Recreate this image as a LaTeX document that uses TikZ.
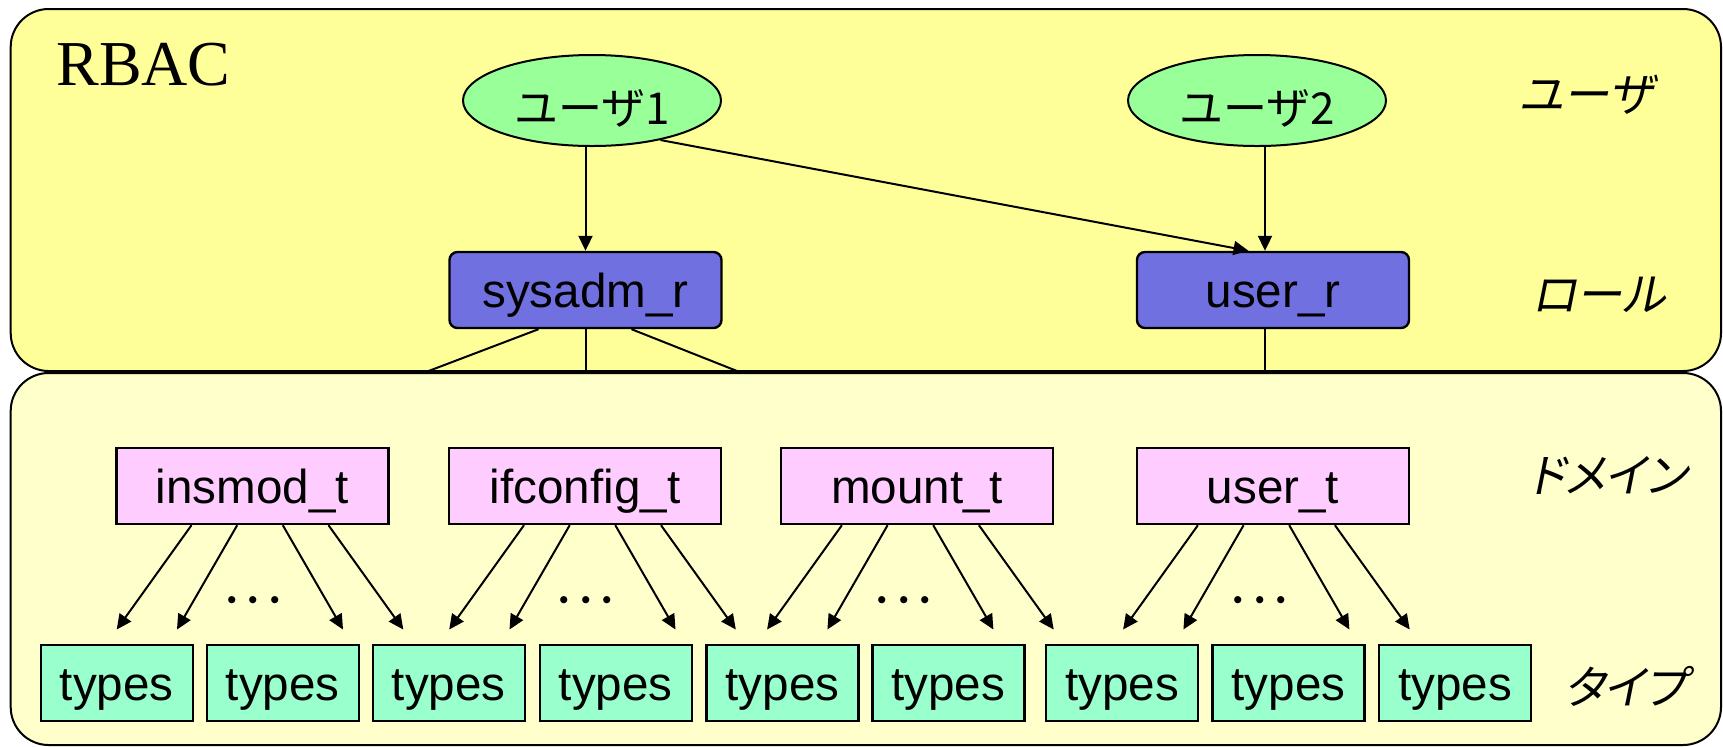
\documentclass[tikz,border=0pt]{standalone}
\usepackage{fontspec}
\setmainfont{Liberation Sans}
\newfontfamily\rbacfont{Liberation Serif}
\newfontfamily\jp{Noto Sans CJK JP}
\newfontfamily\jpit[FakeSlant=0.2,RawFeature=+palt]{Noto Sans CJK JP}
\usetikzlibrary{arrows.meta,shapes.geometric,calc}

\definecolor{panelA}{HTML}{FFFF99}
\definecolor{panelB}{HTML}{FFFFCC}
\definecolor{userfill}{HTML}{99FF99}
\definecolor{rolefill}{HTML}{7070E0}
\definecolor{domfill}{HTML}{FFCCFF}
\definecolor{typefill}{HTML}{99FFCC}

\begin{document}
\begin{tikzpicture}[x=0.5pt,y=-0.5pt,
  panel/.style={draw=black,line width=1pt,rounded corners=19pt},
  usernode/.style={ellipse,draw,line width=1pt,fill=userfill,
    minimum width=129pt,minimum height=45.5pt,inner sep=0pt,
    font=\jp\fontsize{22}{26}\selectfont,
    text height=23.5pt,text depth=0pt},
  labelfont/.style={font=\fontsize{23.8}{28}\selectfont,
    text height=17pt,text depth=0pt},
  rolebox/.style={rectangle,draw,line width=1.2pt,rounded corners=4pt,
    fill=rolefill,minimum width=136pt,minimum height=38pt,inner sep=0pt,
    labelfont},
  dombox/.style={rectangle,draw,line width=1.2pt,fill=domfill,
    minimum width=136pt,minimum height=38pt,inner sep=0pt,labelfont},
  typebox/.style={rectangle,draw,line width=1.2pt,fill=typefill,
    minimum width=76pt,minimum height=38pt,inner sep=0pt,labelfont},
  layer/.style={inner sep=0pt,font=\jpit\fontsize{23}{27}\selectfont},
  arr/.style={line width=1pt,-{Triangle[length=7.5pt,width=7pt]}},
  link/.style={line width=1pt},
  dots/.style={inner sep=0pt,font=\jp\fontsize{21.5}{24}\selectfont}]

\useasboundingbox (0,0) rectangle (1723,746);

% RBAC layer
\draw[panel,fill=panelA] (10.7,9) rectangle (1721,371);
\node[anchor=base west,inner sep=0pt,font=\rbacfont\fontsize{32}{36}\selectfont]
  (title) at (56,85) {RBAC};

\node[usernode] (u1) at (592,100.5) {ユーザ1};
\node[usernode] (u2) at (1257,100.5) {ユーザ2};
\node[rolebox] (sa) at (585.5,290) {sysadm\_r};
\node[rolebox] (ur) at (1273,290) {user\_r};

\node[layer] (lu) at (1586,95) {ユーザ};
\node[layer] (lr) at (1599,295) {ロール};

\draw[arr] (u1.south -| sa.north) -- (sa.north);
\draw[arr] ([xshift=4pt]u2.south) -- ([xshift=-4pt]ur.north);
\draw[arr] (u1.-30) -- ([xshift=-12.25pt]ur.north);

% links leaving the roles towards the domain layer
\coordinate (saL) at (428.6,371);
\coordinate (saM) at (585.5,371);
\coordinate (saR) at (737,371);
\coordinate (urM) at (1265,371);
\draw[link] ([xshift=-23.5pt]sa.south) -- (saL);
\draw[link] (sa.south) -- (saM);
\draw[link] ([xshift=23pt]sa.south) -- (saR);
\draw[link] ([xshift=-4pt]ur.south) -- (urM);

% TE layer
\draw[panel,fill=panelB] (10.7,373) rectangle (1721,745);

\node[dombox] (ins) at (252.5,486) {insmod\_t};
\node[dombox] (ifc) at (585,486) {ifconfig\_t};
\node[dombox] (mnt) at (917,486) {mount\_t};
\node[dombox] (ust) at (1273,486) {user\_t};

\node[layer] (ld) at (1608,475) {ドメイン};
\node[layer] (lt) at (1626,686) {タイプ};

\foreach \x [count=\i] in {116.7,282.8,448.8,615.8,782.5,948.3,1122.2,1288.5,1455.2}
  \node[typebox] (ty\i) at (\x,683) {types};

\foreach \d/\h in {ins/7.5,ifc/7.5,mnt/-6.6,ust/-6.6} {
  \foreach \s/\t [count=\k] in {-68.5/-143.3,-22.8/-83,22.8/83,68.5/143.3} {
    \coordinate (\d-tip\k) at ($(\d.south)+(\h+\t,104.3)$);
    \draw[arr] ($(\d.south)+(\h+\s,0)$) -- (\d-tip\k);
  }
  \node[dots] (\d-dots) at ($(\d.south)+(\h-6.5,81)$) {･･･};
}
\end{tikzpicture}
\end{document}
